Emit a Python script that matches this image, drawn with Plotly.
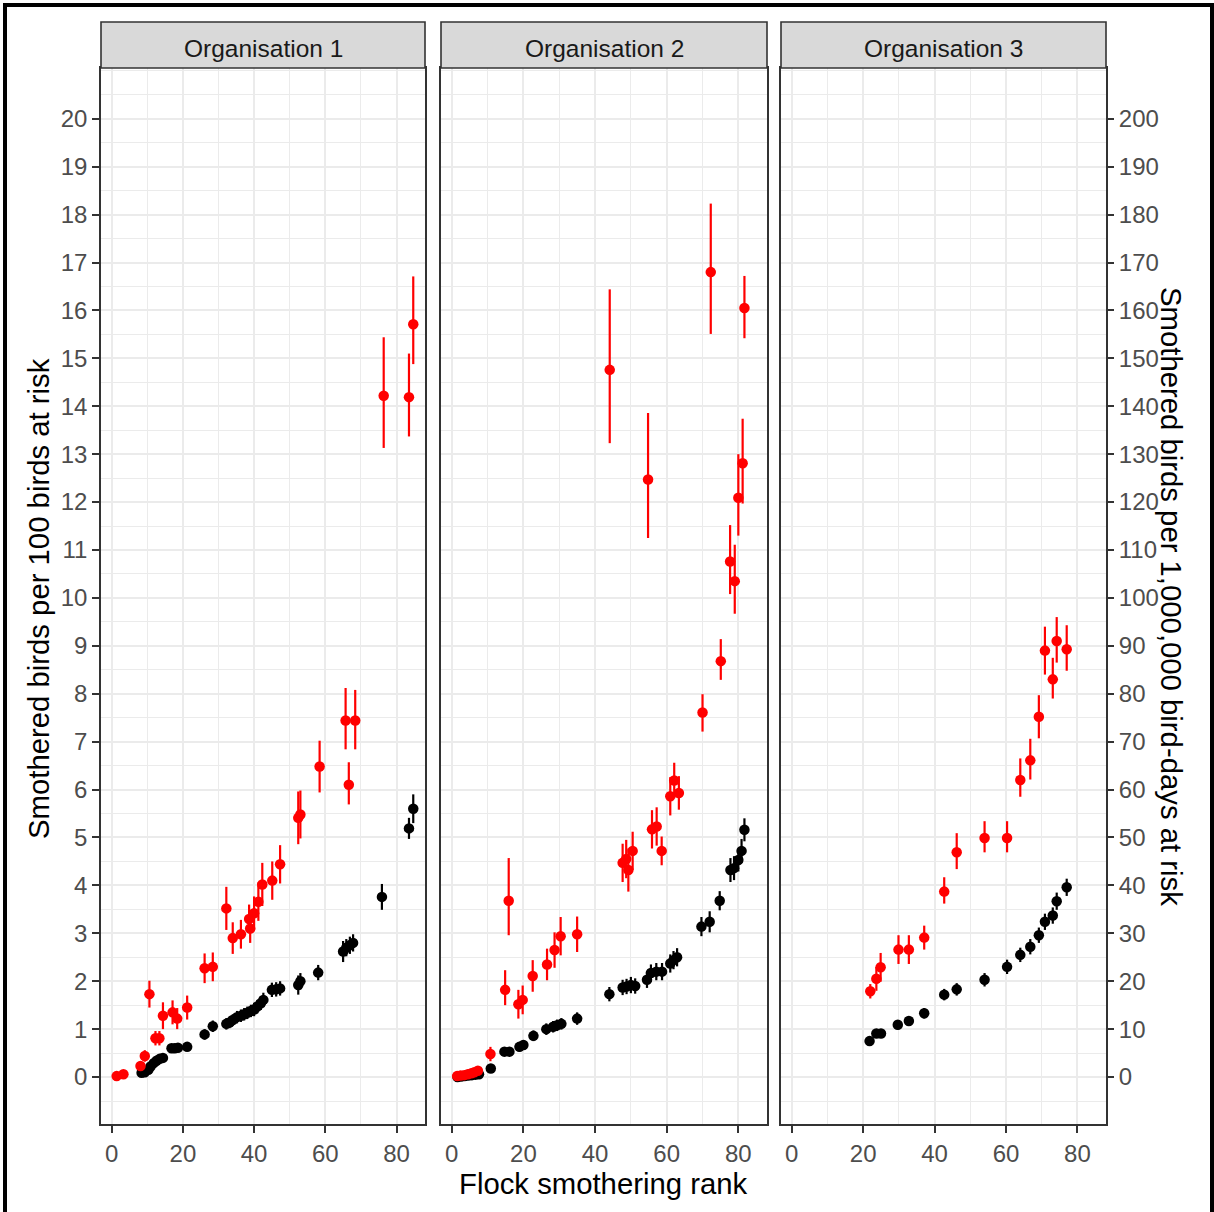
import plotly.graph_objects as go

# ---------------- data ----------------
organisations = ["Organisation 1", "Organisation 2", "Organisation 3"]

# Organisation 1 - black series (per 100 birds at risk)
o1_black_x = [8.4, 9.3, 10.3, 10.9, 11.8, 12.6, 13.5, 14.4, 16.8, 17.7, 18.6, 21.2, 26.1, 28.4, 32.2, 33.1,
              34.0, 35.2, 36.3, 37.2, 38.1, 39.1, 40.0, 40.9, 41.9, 42.6, 45.0, 46.2, 47.3, 52.4, 53.0, 58.0,
              65.0, 65.9, 66.9, 67.8, 75.9, 83.5, 84.7]
o1_black_y = [0.09, 0.10, 0.15, 0.22, 0.29, 0.34, 0.38, 0.40, 0.60, 0.60, 0.61, 0.63, 0.89, 1.06, 1.11, 1.14,
              1.19, 1.25, 1.28, 1.31, 1.34, 1.38, 1.41, 1.47, 1.54, 1.61, 1.82, 1.83, 1.85, 1.92, 2.00, 2.18,
              2.62, 2.70, 2.75, 2.80, 3.76, 5.19, 5.60]
o1_black_err = [0.04, 0.04, 0.05, 0.06, 0.07, 0.07, 0.08, 0.08, 0.09, 0.09, 0.09, 0.09, 0.11, 0.12, 0.12, 0.12,
                0.12, 0.13, 0.13, 0.13, 0.13, 0.13, 0.14, 0.14, 0.14, 0.15, 0.15, 0.15, 0.15, 0.20, 0.17, 0.16,
                0.22, 0.18, 0.18, 0.18, 0.27, 0.22, 0.30]

# Organisation 1 - red series
o1_red_x = [1.4, 3.3, 8.1, 9.3, 10.6, 12.3, 13.4, 14.4, 17.1, 18.4, 21.2, 26.1, 28.4, 32.2, 34.0, 36.3,
            38.6, 38.9, 40.0, 41.2, 42.3, 45.1, 47.3, 52.4, 53.0, 58.4, 65.7, 66.6, 68.4, 76.4, 83.5, 84.7]
o1_red_y = [0.02, 0.06, 0.23, 0.44, 1.73, 0.81, 0.81, 1.28, 1.35, 1.22, 1.45, 2.27, 2.30, 3.52, 2.90, 2.98,
            3.30, 3.10, 3.42, 3.66, 4.02, 4.10, 4.44, 5.41, 5.48, 6.48, 7.44, 6.10, 7.44, 14.22, 14.19, 15.71]
o1_red_up = [0.03, 0.04, 0.10, 0.12, 0.28, 0.15, 0.15, 0.28, 0.25, 0.22, 0.25, 0.31, 0.30, 0.45, 0.33, 0.30,
             0.30, 0.30, 0.35, 0.40, 0.45, 0.40, 0.40, 0.55, 0.50, 0.54, 0.68, 0.47, 0.64, 1.22, 0.91, 1.00]
o1_red_dn = [0.03, 0.04, 0.10, 0.12, 0.28, 0.15, 0.15, 0.28, 0.25, 0.22, 0.25, 0.31, 0.30, 0.45, 0.33, 0.30,
             0.30, 0.30, 0.35, 0.40, 0.45, 0.40, 0.40, 0.55, 0.50, 0.54, 0.60, 0.41, 0.60, 1.09, 0.82, 0.83]

# Organisation 2 - black series
o2_black_x = [1.6, 2.6, 3.6, 4.6, 5.6, 6.6, 7.6, 10.9, 14.7, 16.1, 18.9, 20.0, 22.8, 26.4, 28.3, 29.4, 30.6,
              35.0, 44.0, 47.7, 48.8, 50.0, 51.2, 54.5, 55.6, 57.1, 58.7, 61.0, 61.9, 62.9, 69.7, 72.0, 74.8,
              77.8, 78.8, 80.0, 80.9, 81.7]
o2_black_y = [0.00, 0.01, 0.02, 0.03, 0.04, 0.05, 0.06, 0.18, 0.53, 0.53, 0.63, 0.67, 0.86, 1.00, 1.05, 1.08,
              1.11, 1.22, 1.73, 1.87, 1.89, 1.92, 1.90, 2.03, 2.17, 2.20, 2.20, 2.37, 2.44, 2.50, 3.14, 3.24,
              3.68, 4.32, 4.36, 4.53, 4.72, 5.16]
o2_black_err = [0.02, 0.02, 0.02, 0.03, 0.03, 0.03, 0.04, 0.07, 0.09, 0.09, 0.10, 0.10, 0.11, 0.12, 0.12, 0.12,
                0.12, 0.13, 0.15, 0.16, 0.16, 0.17, 0.16, 0.17, 0.18, 0.18, 0.18, 0.19, 0.19, 0.19, 0.20, 0.22,
                0.20, 0.25, 0.25, 0.24, 0.25, 0.24]

# Organisation 2 - red series
o2_red_x = [1.5, 2.5, 3.5, 4.5, 5.5, 6.3, 7.3, 10.8, 14.9, 15.9, 18.6, 19.8, 22.6, 26.6, 28.7, 30.4, 35.0,
            44.1, 47.7, 48.7, 49.3, 50.5, 54.8, 55.9, 57.2, 58.6, 61.0, 62.1, 63.4, 70.0, 72.3, 75.1, 77.7,
            79.0, 80.0, 81.2, 81.7]
o2_red_y = [0.02, 0.03, 0.04, 0.06, 0.08, 0.10, 0.13, 0.48, 1.82, 3.68, 1.52, 1.61, 2.11, 2.35, 2.65, 2.94, 2.98,
            14.76, 4.47, 4.55, 4.32, 4.72, 12.47, 5.17, 5.23, 4.72, 5.86, 6.19, 5.93, 7.61, 16.80, 8.68, 10.76,
            10.35, 12.09, 12.81, 16.05]
o2_red_up = [0.03, 0.03, 0.04, 0.04, 0.05, 0.05, 0.05, 0.15, 0.41, 0.89, 0.30, 0.30, 0.33, 0.33, 0.37, 0.40, 0.37,
             1.68, 0.40, 0.40, 0.45, 0.40, 1.39, 0.40, 0.40, 0.30, 0.40, 0.37, 0.35, 0.38, 1.43, 0.46, 0.76,
             0.76, 0.91, 0.93, 0.67]
o2_red_dn = [0.03, 0.03, 0.04, 0.04, 0.05, 0.05, 0.05, 0.15, 0.32, 0.72, 0.30, 0.30, 0.33, 0.33, 0.37, 0.40, 0.37,
             1.53, 0.40, 0.40, 0.45, 0.40, 1.22, 0.40, 0.40, 0.30, 0.40, 0.37, 0.35, 0.40, 1.29, 0.39, 0.68,
             0.68, 0.79, 0.84, 0.63]

# Organisation 3 - black series
o3_black_x = [21.8, 23.7, 25.0, 29.7, 32.8, 37.1, 42.7, 46.2, 54.0, 60.3, 64.0, 66.8, 69.2, 70.9, 73.1, 74.2, 77.0]
o3_black_y = [0.75, 0.91, 0.91, 1.09, 1.17, 1.33, 1.72, 1.83, 2.03, 2.30, 2.55, 2.72, 2.96, 3.24, 3.37, 3.67, 3.96]
o3_black_err = [0.08, 0.09, 0.09, 0.10, 0.10, 0.11, 0.12, 0.13, 0.14, 0.15, 0.15, 0.16, 0.16, 0.17, 0.17, 0.18, 0.18]

# Organisation 3 - red series
o3_red_x = [22.0, 23.7, 24.9, 29.9, 32.8, 37.1, 42.7, 46.2, 54.0, 60.3, 64.0, 66.8, 69.2, 70.9, 73.1, 74.2, 77.0]
o3_red_y = [1.79, 2.05, 2.29, 2.66, 2.66, 2.91, 3.87, 4.69, 4.99, 4.99, 6.20, 6.61, 7.52, 8.90, 8.30, 9.10, 8.93]
o3_red_up = [0.15, 0.25, 0.30, 0.30, 0.30, 0.25, 0.30, 0.40, 0.35, 0.35, 0.45, 0.45, 0.45, 0.50, 0.45, 0.50, 0.50]
o3_red_dn = [0.15, 0.25, 0.30, 0.30, 0.30, 0.25, 0.25, 0.35, 0.30, 0.30, 0.35, 0.40, 0.45, 0.50, 0.40, 0.45, 0.45]

x_ticks = [0, 20, 40, 60, 80]
y_left_ticks = list(range(0, 21))
y_right_ticks = list(range(0, 201, 10))

left_title = "Smothered birds per 100 birds at risk"
right_title = "Smothered birds per 1,000,000 bird-days at risk"
x_title = "Flock smothering rank"

# ---------------- layout geometry (pixels) ----------------
W, H = 1214, 1212
panel_px = [(101, 425), (441, 767), (781, 1106)]
plot_top, plot_bottom = 68, 1124
strip_top = 22
FONT = "Liberation Sans, Arial, sans-serif"
TICK_COLOR = "#4d4d4d"
BORDER = "#333333"
TICK_SIZE = 24
TITLE_SIZE = 29.3
STRIP_SIZE = 24.5


def fx(px):
    return px / W


def fy(py):
    return (H - py) / H


fig = go.Figure()

series = [
    (o1_black_x, o1_black_y, o1_black_err, o1_red_x, o1_red_y, o1_red_up, o1_red_dn),
    (o2_black_x, o2_black_y, o2_black_err, o2_red_x, o2_red_y, o2_red_up, o2_red_dn),
    (o3_black_x, o3_black_y, o3_black_err, o3_red_x, o3_red_y, o3_red_up, o3_red_dn),
]

for i, (bx, by, be, rx, ry, ru, rd) in enumerate(series):
    suffix = "" if i == 0 else str(i + 1)
    fig.add_trace(go.Scatter(
        x=bx, y=by, mode="markers", xaxis="x" + suffix, yaxis="y" + suffix,
        marker=dict(color="black", size=10.5),
        error_y=dict(type="data", array=be, symmetric=True, color="black", thickness=2.2, width=0),
        showlegend=False, hoverinfo="x+y"))
    fig.add_trace(go.Scatter(
        x=rx, y=ry, mode="markers", xaxis="x" + suffix, yaxis="y" + suffix,
        marker=dict(color="#ff0000", size=10.5),
        error_y=dict(type="data", array=ru, arrayminus=rd, symmetric=False, color="#ff0000",
                     thickness=2.2, width=0),
        showlegend=False, hoverinfo="x+y"))

x_range = [-3.0, 88.0]
y_range = [-0.98, 21.06]
grid_major = "#ebebeb"

layout = dict(
    width=W, height=H,
    margin=dict(l=0, r=0, t=0, b=0),
    paper_bgcolor="white", plot_bgcolor="white",
    font=dict(family=FONT, size=TICK_SIZE, color=TICK_COLOR),
    showlegend=False,
)

for i, (x0, x1) in enumerate(panel_px):
    suffix = "" if i == 0 else str(i + 1)
    layout["xaxis" + suffix] = dict(
        domain=[fx(x0), fx(x1)], range=x_range, anchor="y" + suffix,
        tickmode="array", tickvals=x_ticks, ticktext=[str(v) for v in x_ticks],
        ticks="outside", ticklen=7, tickwidth=1.5, tickcolor=BORDER,
        tickfont=dict(family=FONT, size=TICK_SIZE, color=TICK_COLOR),
        showgrid=True, gridcolor=grid_major, gridwidth=1.6,
        minor=dict(dtick=10, tick0=0, showgrid=True, gridcolor=grid_major, gridwidth=1.0),
        showline=True, linecolor=BORDER, linewidth=1.6, mirror=True,
        zeroline=False, fixedrange=True,
    )
    ydict = dict(
        domain=[fy(plot_bottom), fy(plot_top)], range=y_range, anchor="x" + suffix,
        tickmode="array", tickvals=y_left_ticks, ticktext=[str(v) for v in y_left_ticks],
        showgrid=True, gridcolor=grid_major, gridwidth=1.6,
        minor=dict(dtick=0.5, tick0=0, showgrid=True, gridcolor=grid_major, gridwidth=1.0),
        showline=True, linecolor=BORDER, linewidth=1.6, mirror=True,
        zeroline=False, fixedrange=True,
    )
    if i == 0:
        ydict.update(ticks="outside", ticklen=7, tickwidth=1.5, tickcolor=BORDER,
                     tickfont=dict(family=FONT, size=TICK_SIZE, color=TICK_COLOR))
    else:
        ydict.update(ticks="", showticklabels=False)
    layout["yaxis" + suffix] = ydict

layout["yaxis4"] = dict(
    overlaying="y3", side="right", anchor="x3",
    range=[y_range[0] * 10, y_range[1] * 10],
    tickmode="array", tickvals=y_right_ticks, ticktext=[str(v) for v in y_right_ticks],
    ticks="outside", ticklen=7, tickwidth=1.5, tickcolor=BORDER,
    tickfont=dict(family=FONT, size=TICK_SIZE, color=TICK_COLOR),
    showgrid=False, zeroline=False, showline=False, fixedrange=True,
)

fig.update_layout(**layout)

# invisible trace to activate right axis
fig.add_trace(go.Scatter(x=[None], y=[None], xaxis="x3", yaxis="y4", showlegend=False, hoverinfo="skip"))

shapes = []
annotations = []
for i, (x0, x1) in enumerate(panel_px):
    shapes.append(dict(type="rect", xref="paper", yref="paper",
                       x0=fx(x0), x1=fx(x1), y0=fy(plot_top), y1=fy(strip_top),
                       fillcolor="#d9d9d9", line=dict(color=BORDER, width=1.6), layer="above"))
    annotations.append(dict(xref="paper", yref="paper", x=fx((x0 + x1) / 2), y=fy(48),
                            text=organisations[i], showarrow=False, xanchor="center", yanchor="middle",
                            font=dict(family=FONT, size=STRIP_SIZE, color="#1a1a1a")))

# outer frame
shapes.append(dict(type="rect", xref="paper", yref="paper", x0=fx(5), x1=fx(1212), y0=fy(1220), y1=fy(5),
                   line=dict(color="black", width=4), fillcolor="rgba(0,0,0,0)", layer="above"))

annotations.append(dict(xref="paper", yref="paper", x=fx(38), y=fy(599), text=left_title, showarrow=False,
                        textangle=-90, xanchor="center", yanchor="middle",
                        font=dict(family=FONT, size=TITLE_SIZE, color="black")))
annotations.append(dict(xref="paper", yref="paper", x=fx(1172), y=fy(596), text=right_title, showarrow=False,
                        textangle=90, xanchor="center", yanchor="middle",
                        font=dict(family=FONT, size=TITLE_SIZE, color="black")))
annotations.append(dict(xref="paper", yref="paper", x=fx(603), y=fy(1183), text=x_title, showarrow=False,
                        xanchor="center", yanchor="middle",
                        font=dict(family=FONT, size=TITLE_SIZE, color="black")))

fig.update_layout(shapes=shapes, annotations=annotations)

fig.write_html("out.html")
